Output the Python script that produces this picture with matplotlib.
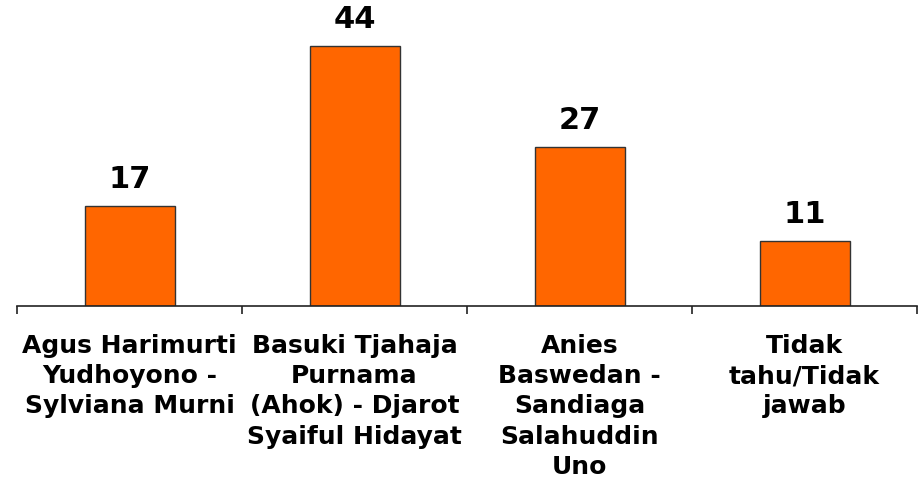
import matplotlib
matplotlib.use("Agg")
import matplotlib.pyplot as plt

categories = [
    "Agus Harimurti\nYudhoyono -\nSylviana Murni",
    "Basuki Tjahaja\nPurnama\n(Ahok) - Djarot\nSyaiful Hidayat",
    "Anies\nBaswedan -\nSandiaga\nSalahuddin\nUno",
    "Tidak\ntahu/Tidak\njawab",
]
values = [17, 44, 27, 11]

plt.rcParams["font.family"] = ["DejaVu Sans"]

fig = plt.figure(figsize=(9.21, 4.82), dpi=100)
ax = fig.add_axes([17 / 921, 176 / 482, 900 / 921, 306 / 482])

x = list(range(len(values)))
ax.bar(x, values, width=0.4, color="#FF6600", edgecolor="#333333", linewidth=1)

for xi, v in zip(x, values):
    ax.text(xi, v + 2.0, str(v), ha="center", va="bottom",
            fontsize=22, fontweight="bold", color="black")

ax.set_xlim(-0.5, len(values) - 0.5)
ax.set_ylim(0, 51.8)
ax.set_yticks([])

ax.set_xticks(x)
ax.set_xticklabels(categories, fontsize=18, fontweight="bold", linespacing=1.33)
ax.tick_params(axis="x", which="major", length=0, pad=20)
ax.set_xticks([i - 0.5 for i in range(len(values) + 1)], minor=True)
ax.tick_params(axis="x", which="minor", length=6, width=1.2, color="#222222")

for side in ["top", "right", "left"]:
    ax.spines[side].set_visible(False)
ax.spines["bottom"].set_linewidth(1.2)
ax.spines["bottom"].set_color("#222222")

fig.savefig("out.png", dpi=100)
plt.close(fig)
